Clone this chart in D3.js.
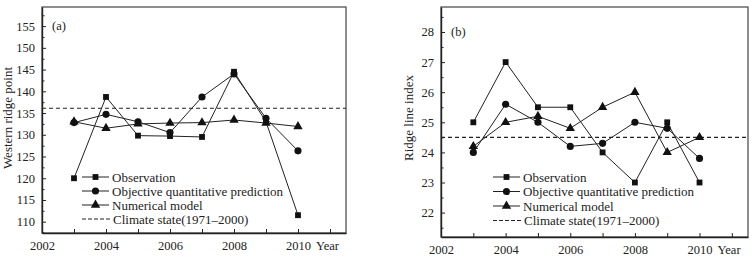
<!DOCTYPE html>
<html>
<head>
<meta charset="utf-8">
<script src="https://cdn.jsdelivr.net/npm/d3@7"></script>
<style>
  body { margin: 0; background: #fff; }
  text { font-family: "Liberation Serif", "DejaVu Serif", serif; fill: #222; }
</style>
</head>
<body>
<div id="chart"></div>
<script>
// data
const years = [2003, 2004, 2005, 2006, 2007, 2008, 2009, 2010];

const obsA = [120, 138.7, 129.8, 129.7, 129.5, 144.5, 133, 111.5];
const objA = [132.8, 134.7, 133, 130.5, 138.7, 144, 133.8, 126.3];
const numA = [133, 131.5, 132.5, 132.7, 132.8, 133.4, 132.7, 131.9];
const climateA = 136.1;

const obsB = [25, 27, 25.5, 25.5, 24, 23, 25, 23];
const objB = [24, 25.6, 25, 24.2, 24.3, 25, 24.8, 23.8];
const numB = [24.2, 25, 25.2, 24.8, 25.5, 26, 24, 24.5];
const climateB = 24.5;

const xTicks = [2002, 2004, 2006, 2008, 2010];
const xMinor = [2003, 2005, 2007, 2009, 2011];
const yTicksA = [110, 115, 120, 125, 130, 135, 140, 145, 150, 155];
const yMinorA = [107.5, 112.5, 117.5, 122.5, 127.5, 132.5, 137.5, 142.5, 147.5, 152.5, 157.5];
const yTicksB = [22, 23, 24, 25, 26, 27, 28];
const yMinorB = [21.5, 22.5, 23.5, 24.5, 25.5, 26.5, 27.5, 28.5];

const legendNames = ["Observation", "Objective quantitative prediction", "Numerical model"];

const width = 756, height = 258;

const svg = d3.select("#chart").append("svg")
  .attr("width", width)
  .attr("height", height);

function drawPanel(opt) {
  const g = svg.append("g");

  const x = d3.scaleLinear().domain([2002, 2011.5]).range([opt.left, opt.right]);
  const y = d3.scaleLinear().domain(opt.yDomain).range([opt.bottom, opt.top]);

  // frame
  g.append("rect")
    .attr("x", opt.left).attr("y", opt.top)
    .attr("width", opt.right - opt.left).attr("height", opt.bottom - opt.top)
    .attr("fill", "none").attr("stroke", "#444").attr("stroke-width", 1.2);

  // axes, ticks point inward
  g.append("g")
    .attr("transform", `translate(0,${opt.bottom})`)
    .call(d3.axisBottom(x).tickValues(xTicks).tickFormat(d3.format("d"))
      .tickSize(-4).tickSizeOuter(0).tickPadding(8))
    .call(a => a.select(".domain").attr("stroke", "#222").attr("stroke-width", 1.4));
  g.append("g")
    .attr("transform", `translate(0,${opt.bottom})`)
    .call(d3.axisBottom(x).tickValues(xMinor).tickFormat("").tickSize(-4).tickSizeOuter(0))
    .call(a => a.select(".domain").remove());

  g.append("g")
    .attr("transform", `translate(${opt.left},0)`)
    .call(d3.axisLeft(y).tickValues(opt.yTicks).tickSize(-4).tickSizeOuter(0).tickPadding(7))
    .call(a => a.select(".domain").attr("stroke", "#222").attr("stroke-width", 1.4));
  g.append("g")
    .attr("transform", `translate(${opt.left},0)`)
    .call(d3.axisLeft(y).tickValues(opt.yMinor.filter(v => v > opt.yDomain[0] && v < opt.yDomain[1]))
      .tickFormat("").tickSize(-2.5).tickSizeOuter(0))
    .call(a => a.select(".domain").remove());

  g.selectAll(".tick text")
    .attr("font-family", "Liberation Serif, serif")
    .attr("font-size", 12.5)
    .attr("fill", "#222");
  g.selectAll(".tick line").attr("stroke", "#222");

  g.append("text")
    .attr("x", x(2010) + 18).attr("y", opt.bottom + 17)
    .attr("font-size", 12.5)
    .text("Year");

  g.append("text")
    .attr("transform", `translate(${opt.titleX},${opt.titleY}) rotate(-90)`)
    .attr("text-anchor", "middle")
    .attr("font-size", 13)
    .text(opt.yTitle);

  g.append("text")
    .attr("x", opt.left + 10).attr("y", y(opt.labelAt) + 4)
    .attr("font-size", 12.5)
    .text(opt.panel);

  // climate line
  g.append("line")
    .attr("x1", opt.left).attr("x2", opt.right)
    .attr("y1", y(opt.climate)).attr("y2", y(opt.climate))
    .attr("stroke", "#222").attr("stroke-width", 1.1)
    .attr("stroke-dasharray", "4,3");

  const line = d3.line().x((d, i) => x(years[i])).y(d => y(d));
  const symbols = [d3.symbolSquare, d3.symbolCircle, d3.symbolTriangle];
  const sizes = [34, 40, 38];

  opt.series.forEach((s, k) => {
    g.append("path")
      .attr("d", line(s))
      .attr("fill", "none")
      .attr("stroke", "#222")
      .attr("stroke-width", 1);
    g.selectAll(null)
      .data(s)
      .join("path")
      .attr("transform", (d, i) => `translate(${x(years[i])},${y(d)})`)
      .attr("d", d3.symbol(symbols[k], sizes[k]))
      .attr("fill", "#111");
  });

  // legend
  const lg = g.append("g").attr("transform", `translate(${opt.legX},${opt.legY})`);
  legendNames.forEach((name, k) => {
    const row = lg.append("g").attr("transform", `translate(0,${k * opt.legStep})`);
    row.append("line").attr("x1", 0).attr("x2", 27).attr("y1", 0).attr("y2", 0)
      .attr("stroke", "#222").attr("stroke-width", 1);
    row.append("path")
      .attr("transform", "translate(13.5,0)")
      .attr("d", d3.symbol(symbols[k], sizes[k]))
      .attr("fill", "#111");
    row.append("text").attr("x", 30).attr("y", 4.5)
      .attr("font-size", 13)
      .text(name);
  });
  const crow = lg.append("g").attr("transform", `translate(0,${3 * opt.legStep})`);
  crow.append("line").attr("x1", 0).attr("x2", 30).attr("y1", 0).attr("y2", 0)
    .attr("stroke", "#222").attr("stroke-width", 1).attr("stroke-dasharray", "4,2");
  crow.append("text").attr("x", 31).attr("y", 4.5)
    .attr("font-size", 13)
    .text("Climate state(1971\u20132000)");
}

drawPanel({
  left: 42, right: 346, top: 7, bottom: 233,
  yDomain: [107.4, 159.4],
  yTicks: yTicksA, yMinor: yMinorA,
  climate: climateA,
  series: [obsA, objA, numA],
  yTitle: "Western ridge point",
  titleX: 12, titleY: 118,
  panel: "(a)", labelAt: 155,
  legX: 82, legY: 177, legStep: 14
});

drawPanel({
  left: 441, right: 748, top: 7, bottom: 237,
  yDomain: [21.19, 28.83],
  yTicks: yTicksB, yMinor: yMinorB,
  climate: climateB,
  series: [obsB, objB, numB],
  yTitle: "Ridge line index",
  titleX: 413, titleY: 118,
  panel: "(b)", labelAt: 28,
  legX: 493, legY: 177, legStep: 14.5
});
</script>
</body>
</html>
